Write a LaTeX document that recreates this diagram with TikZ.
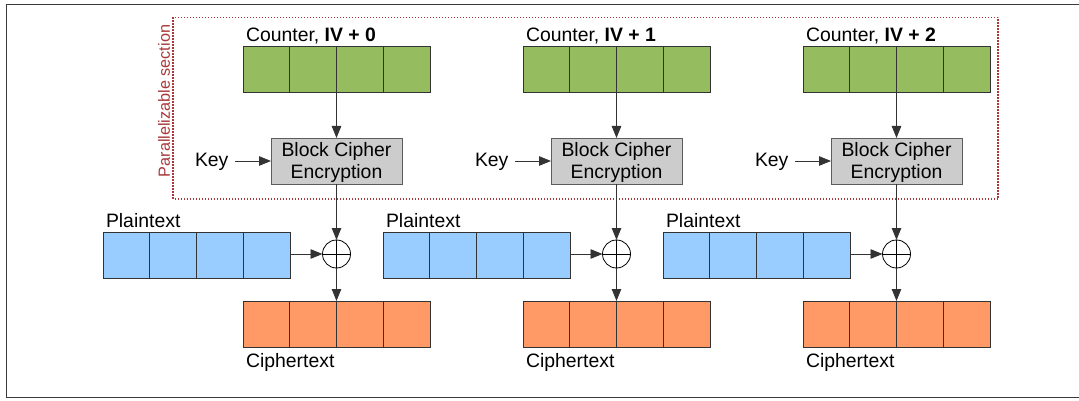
\documentclass[tikz,border=0pt]{standalone}
\usepackage{fontspec}
\setmainfont{Liberation Sans}
\usetikzlibrary{arrows.meta,calc}
\definecolor{ctrgreen}{HTML}{95BD5F}
\definecolor{ptblue}{HTML}{99CCFF}
\definecolor{ctorange}{HTML}{FF9966}
\definecolor{ciphergray}{HTML}{CCCCCC}
\definecolor{edgegray}{HTML}{333333}
\definecolor{framegray}{HTML}{3A3A3A}
\definecolor{sectionred}{HTML}{A8383A}
\tikzset{
  fourcell/.style={draw=edgegray, line width=0.9pt, minimum width=187pt, minimum height=46pt,
    inner sep=0pt, outer sep=0pt,
    path picture={\foreach \f in {0.25,0.5,0.75}{
      \draw[edgegray, line width=0.9pt]
        ($(path picture bounding box.north west)!\f!(path picture bounding box.north east)$) --
        ($(path picture bounding box.south west)!\f!(path picture bounding box.south east)$);}}},
  cipherbox/.style={draw=edgegray!80, line width=0.9pt, fill=ciphergray, minimum width=131pt,
    minimum height=46pt, inner sep=0pt, outer sep=0pt},
  ciphertext/.style={align=center, inner sep=0pt, font=\fontsize{19.4}{22}\selectfont},
  xorop/.style={circle, draw=black, line width=0.8pt, minimum size=28pt, inner sep=0pt, outer sep=0pt,
    path picture={
      \draw[black, line width=0.8pt] (path picture bounding box.north) -- (path picture bounding box.south);
      \draw[black, line width=0.8pt] (path picture bounding box.west) -- (path picture bounding box.east);}},
  lbl/.style={anchor=base west, inner sep=0pt, outer sep=0pt, font=\fontsize{19.4}{22}\selectfont},
  flow/.style={draw=edgegray, line width=0.9pt, -{Triangle[length=12pt,width=9.5pt]}},
}
\begin{document}
\begin{tikzpicture}[x=1pt,y=-1pt]
\useasboundingbox (0,0) rectangle (1079,401);
% outer frame, open on the right
\draw[framegray, line width=1.8pt] (1079,4.5) -- (6.5,4.5) -- (6.5,397.5) -- (1079,397.5);
% parallelizable section
\draw[sectionred, line width=1.2pt, dash pattern=on 1.4pt off 1.6pt] (173,17.5) rectangle (998,199);
\node[rotate=90, text=sectionred, inner sep=0pt, font=\fontsize{16.2}{18}\selectfont] (par) at (164,101) {Parallelizable section};

\foreach \i/\dx in {0/0,1/280,2/560}{
  % counter block
  \node[fourcell, fill=ctrgreen] (g\i) at (336.5+\dx,69) {};
  \node[lbl] (gl\i) at (246+\dx,42) {Counter, \textbf{IV + \i}};
  % block cipher
  \node[cipherbox] (c\i) at (336.5+\dx,161) {};
  \node[ciphertext] (ct\i) at ([yshift=-1.5pt]c\i.center) {Block Cipher\\Encryption};
  \node[lbl] (k\i) at (195+\dx,167) {Key};
  % xor
  \node[xorop] (x\i) at (336.5+\dx,254) {};
  % plaintext
  \node[fourcell, fill=ptblue] (p\i) at (196.5+\dx,255) {};
  \node[lbl] (pl\i) at (106+\dx,227) {Plaintext};
  % ciphertext
  \node[fourcell, fill=ctorange] (o\i) at (336.5+\dx,324) {};
  \node[lbl] (ol\i) at (246+\dx,367) {Ciphertext};
  % connectors
  \draw[flow] (g\i.south) -- (c\i.north);
  \draw[flow] ([xshift=7pt]k\i.east |- c\i.west) -- (c\i.west);
  \draw[flow] (c\i.south) -- (x\i.north);
  \draw[flow] (p\i.east |- x\i.west) -- (x\i.west);
  \draw[flow] (x\i.south) -- (o\i.north);
}
\end{tikzpicture}
\end{document}
